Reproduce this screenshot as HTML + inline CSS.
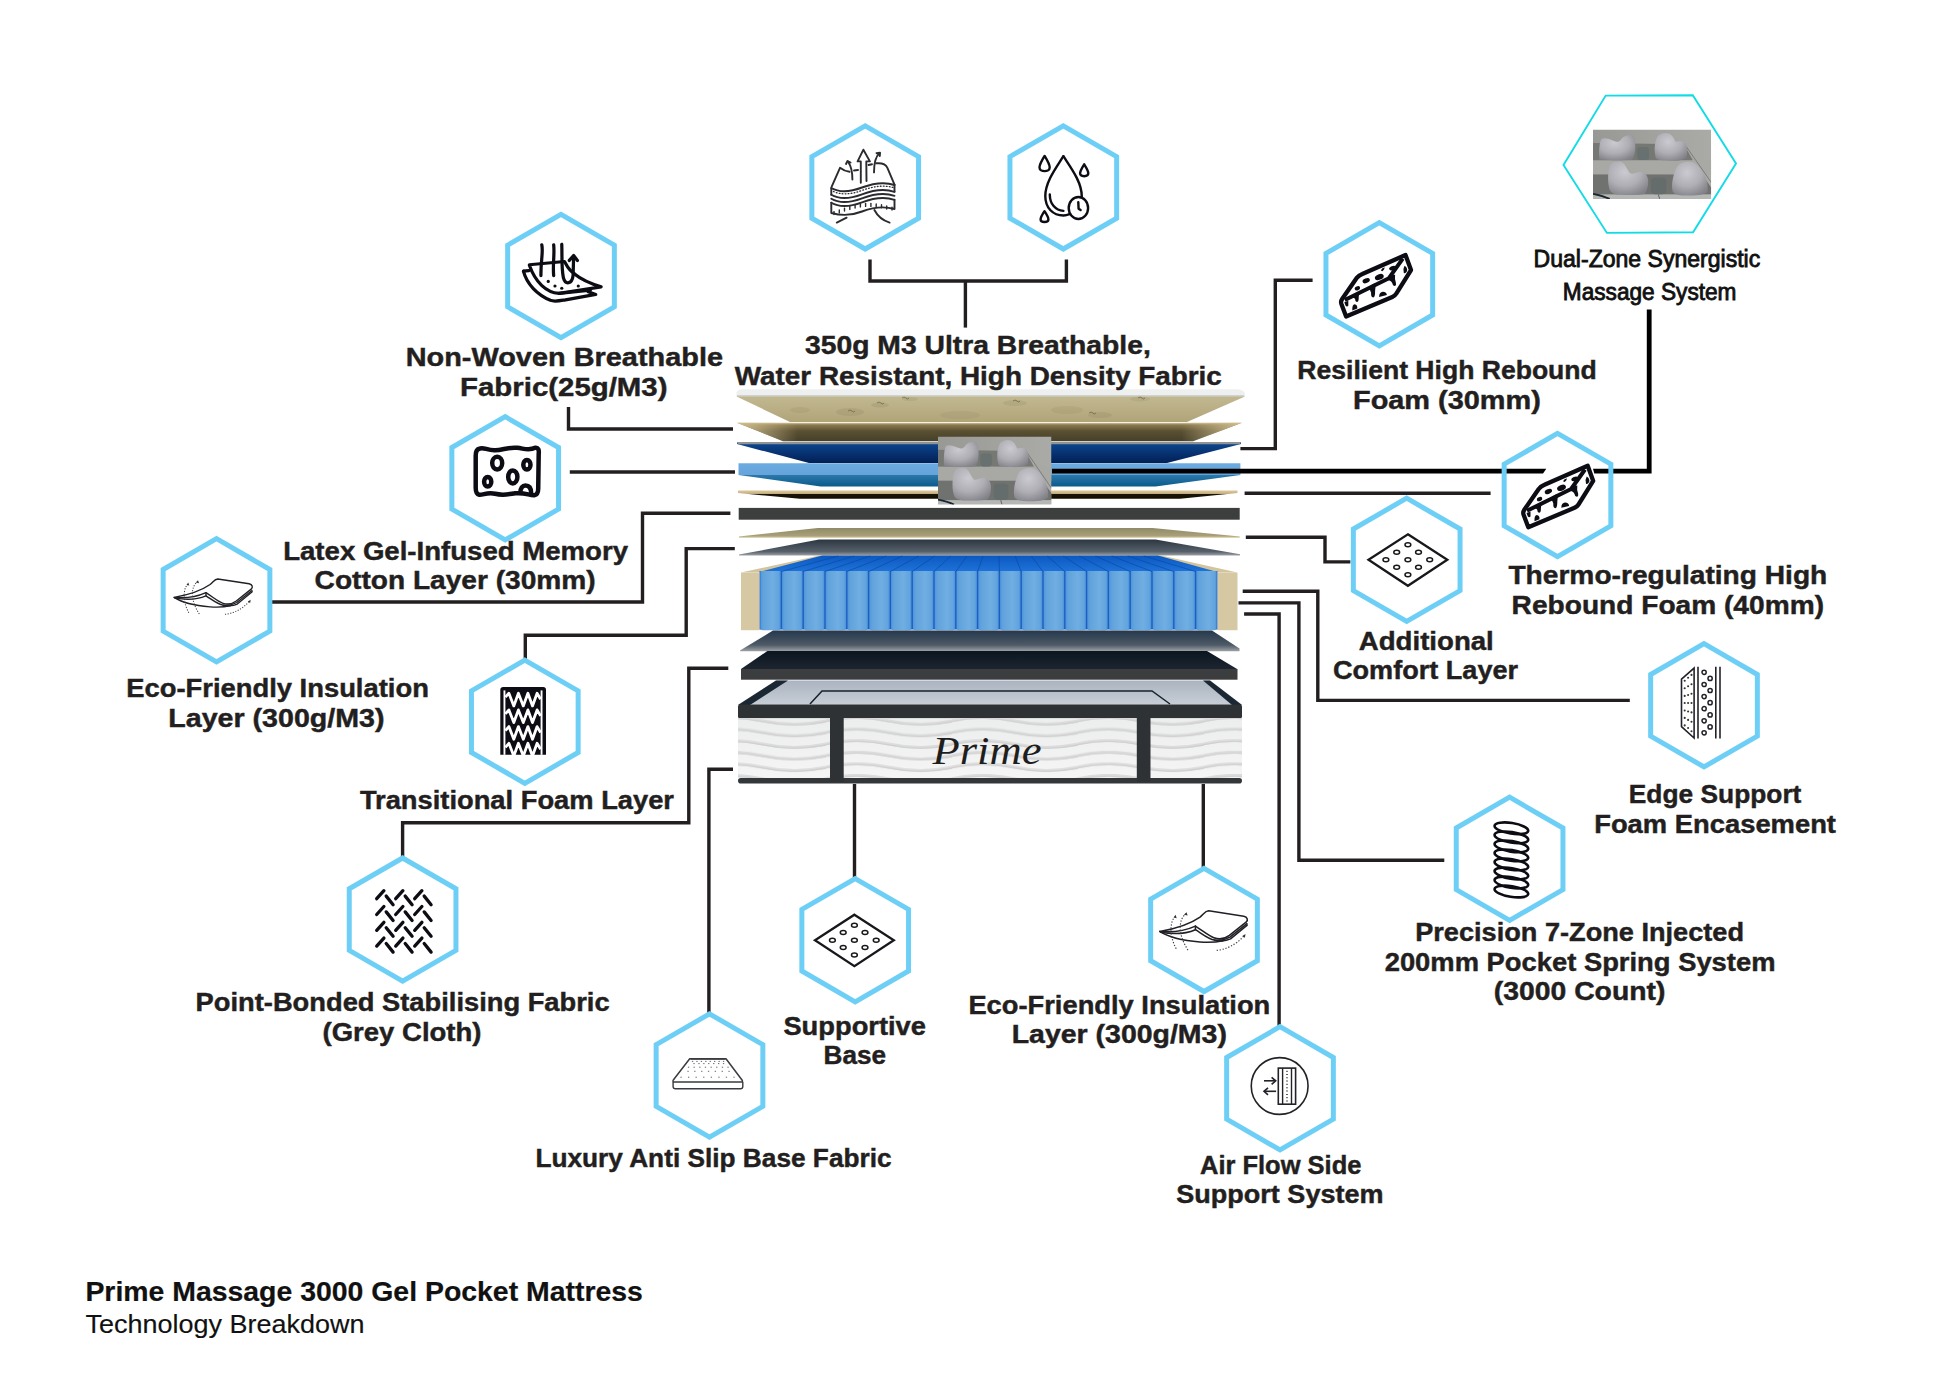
<!DOCTYPE html>
<html><head><meta charset="utf-8"><style>
html,body{margin:0;padding:0;background:#fff;width:1946px;height:1390px;overflow:hidden;}
text{font-family:"Liberation Sans",sans-serif;}
</style></head><body>
<svg width="1946" height="1390" viewBox="0 0 1946 1390" style="position:absolute;left:0;top:0">
<rect width="100%" height="100%" fill="#ffffff"/>
<symbol id="photo" viewBox="0 0 1845 1078" preserveAspectRatio="none"><defs><radialGradient id="gBlob" cx="0.42" cy="0.32" r="0.75"><stop offset="0" stop-color="#cacad0"/><stop offset="0.55" stop-color="#aeaeb4"/><stop offset="1" stop-color="#818187"/></radialGradient><linearGradient id="gPhBg" x1="0" y1="0" x2="1" y2="0"><stop offset="0" stop-color="#989894"/><stop offset="1" stop-color="#aaaaa6"/></linearGradient></defs><rect width="1845" height="1078" fill="url(#gPhBg)"/><path d="M0,210 L1420,230 L1560,480 L0,480Z" fill="#767874"/><rect y="480" width="1845" height="220" fill="#a8a8a4"/><path d="M0,700 L1700,700 L1845,900 L1845,1010 L0,1010Z" fill="#707270"/><rect y="1010" width="1845" height="68" fill="#b4b7b4"/><path d="M1450,258 L1845,820" stroke="#5a5a5a" stroke-width="9"/><rect x="690" y="270" width="185" height="205" rx="50" fill="#687170"/><rect x="905" y="750" width="240" height="255" rx="60" fill="#646d6b"/><path d="M100,470 C90,380 95,200 130,150 C170,120 260,150 330,180 C380,200 410,190 440,150 C480,100 540,80 590,85 C650,95 665,160 660,260 C655,360 650,440 600,470 C500,480 300,480 100,470Z" fill="url(#gBlob)"/><path d="M980,440 C950,330 960,200 1000,120 C1040,60 1140,40 1200,70 C1250,95 1270,160 1290,190 C1330,180 1400,175 1440,210 C1480,260 1475,380 1460,430 C1430,480 1300,490 1200,485 C1080,480 1000,480 980,440Z" fill="url(#gBlob)"/><path d="M250,900 C225,800 230,600 280,530 C320,490 420,485 470,520 C520,560 540,640 580,680 C620,700 680,660 740,655 C800,655 850,700 860,780 C865,860 850,960 800,1000 C700,1020 500,1020 380,1010 C300,1000 260,960 250,900Z" fill="url(#gBlob)"/><path d="M1240,950 C1220,850 1250,700 1310,580 C1350,520 1450,490 1540,505 C1620,520 1680,600 1720,680 C1780,780 1800,880 1790,960 C1760,1020 1600,1030 1450,1025 C1320,1020 1250,1000 1240,950Z" fill="url(#gBlob)"/><path d="M0,1000 C100,1020 200,1050 260,1078" stroke="#1c2430" stroke-width="30" fill="none"/><path d="M1020,1010 L1040,1078" stroke="#333" stroke-width="10"/></symbol>
<defs>
<linearGradient id="gTop" x1="0" y1="0" x2="0" y2="1"><stop offset="0" stop-color="#c2b890"/><stop offset="1" stop-color="#b0a479"/></linearGradient>
<linearGradient id="gL2" x1="0" y1="0" x2="0" y2="1"><stop offset="0" stop-color="#d8c8a0"/><stop offset="0.12" stop-color="#8a7a4e"/><stop offset="0.45" stop-color="#5a5033"/><stop offset="1" stop-color="#464029"/></linearGradient>
<linearGradient id="gL2h" x1="0" y1="0" x2="1" y2="0"><stop offset="0" stop-color="#cdbb8c" stop-opacity="1"/><stop offset="0.12" stop-color="#cdbb8c" stop-opacity="0"/><stop offset="0.88" stop-color="#cdbb8c" stop-opacity="0"/><stop offset="1" stop-color="#cdbb8c" stop-opacity="1"/></linearGradient>
<linearGradient id="gDB" x1="0" y1="0" x2="0" y2="1"><stop offset="0" stop-color="#0c4891"/><stop offset="1" stop-color="#031f55"/></linearGradient>
<linearGradient id="gLB" x1="0" y1="0" x2="0" y2="1"><stop offset="0" stop-color="#6cabe0"/><stop offset="0.5" stop-color="#64a4da"/><stop offset="0.52" stop-color="#2a78aa"/><stop offset="1" stop-color="#0a5a8a"/></linearGradient>
<linearGradient id="gThin" x1="0" y1="0" x2="0" y2="1"><stop offset="0" stop-color="#dcc89c"/><stop offset="0.35" stop-color="#c9b283"/><stop offset="0.45" stop-color="#1a1505"/><stop offset="1" stop-color="#120e02"/></linearGradient>
<linearGradient id="gBeige2" x1="0" y1="0" x2="0" y2="1"><stop offset="0" stop-color="#8f8a66"/><stop offset="0.8" stop-color="#a8a07a"/><stop offset="1" stop-color="#d9cba3"/></linearGradient>
<linearGradient id="gGray1" x1="0" y1="0" x2="0" y2="1"><stop offset="0" stop-color="#2c3640"/><stop offset="0.75" stop-color="#56606a"/><stop offset="1" stop-color="#9da1a5"/></linearGradient>
<linearGradient id="gGray2" x1="0" y1="0" x2="0" y2="1"><stop offset="0" stop-color="#25384c"/><stop offset="0.7" stop-color="#4e5a66"/><stop offset="1" stop-color="#9ea2a6"/></linearGradient>
<linearGradient id="gDark" x1="0" y1="0" x2="0" y2="1"><stop offset="0" stop-color="#0b1520"/><stop offset="1" stop-color="#1d2630"/></linearGradient>
<linearGradient id="gSpr" x1="0" y1="0" x2="1" y2="0"><stop offset="0" stop-color="#4f97da"/><stop offset="0.15" stop-color="#62a3dc"/><stop offset="0.6" stop-color="#70aee2"/><stop offset="0.9" stop-color="#62a4de"/><stop offset="1" stop-color="#4a92d8"/></linearGradient>
<linearGradient id="gSprTop" x1="0" y1="0" x2="0" y2="1"><stop offset="0" stop-color="#0b58c2"/><stop offset="1" stop-color="#1f74d8"/></linearGradient>
<linearGradient id="gBaseTop" x1="0" y1="0" x2="0" y2="1"><stop offset="0" stop-color="#aab4c0"/><stop offset="1" stop-color="#c8ced6"/></linearGradient>
<linearGradient id="gQuilt" x1="0" y1="0" x2="0" y2="1"><stop offset="0" stop-color="#eceded"/><stop offset="1" stop-color="#f5f5f5"/></linearGradient>
<pattern id="pWave" x="700" y="716" width="126" height="11.6" patternUnits="userSpaceOnUse">
<path d="M-1,4.8 C20,0.3 42,0.3 63,4.8 C84,9.3 105,9.3 127,4.8" fill="none" stroke="#dcdcdc" stroke-width="3"/>
<path d="M-1,5.6 C20,1.1 42,1.1 63,5.6 C84,10.1 105,10.1 127,5.6" fill="none" stroke="#cfcfd0" stroke-width="1.2"/>
</pattern>
</defs>
<path d="M736.5,396.8 L736.5,392.5 Q737.5,389.3 742,389.3 L1238,389.3 Q1244,390 1245,393.5 L1245,396.8Z" fill="#eef0f0"/>
<rect x="737" y="395.2" width="507" height="1.6" fill="#c9caca"/>
<path d="M736.50,396.50 L1245.00,396.50 L1187.00,422.00 L790.00,422.00Z" fill="url(#gTop)"/>
<ellipse cx="850" cy="412" rx="14" ry="4" fill="#5c5636" opacity="0.1"/>
<ellipse cx="880" cy="405" rx="9" ry="2.5" fill="#5c5636" opacity="0.12"/>
<ellipse cx="1015" cy="403" rx="12" ry="3" fill="#5c5636" opacity="0.1"/>
<ellipse cx="1067" cy="410" rx="16" ry="4" fill="#5c5636" opacity="0.08"/>
<ellipse cx="1100" cy="415" rx="12" ry="3" fill="#5c5636" opacity="0.1"/>
<ellipse cx="910" cy="399" rx="8" ry="2" fill="#5c5636" opacity="0.1"/>
<ellipse cx="1140" cy="399" rx="10" ry="2.5" fill="#5c5636" opacity="0.1"/>
<ellipse cx="960" cy="415" rx="20" ry="4" fill="#5c5636" opacity="0.07"/>
<ellipse cx="800" cy="410" rx="10" ry="3" fill="#5c5636" opacity="0.08"/>
<path d="M848,411 q2,-2 4,0 q1,2 3,0" fill="none" stroke="#5e5838" stroke-width="0.9" opacity="0.7"/>
<path d="M877,403 q2,-2 4,0 q1,2 3,0" fill="none" stroke="#5e5838" stroke-width="0.9" opacity="0.7"/>
<path d="M1013,401 q2,-2 4,0 q1,2 3,0" fill="none" stroke="#5e5838" stroke-width="0.9" opacity="0.7"/>
<path d="M1089,413 q2,-2 4,0 q1,2 3,0" fill="none" stroke="#5e5838" stroke-width="0.9" opacity="0.7"/>
<path d="M902,398 q2,-2 4,0 q1,2 3,0" fill="none" stroke="#5e5838" stroke-width="0.9" opacity="0.7"/>
<path d="M1138,398 q2,-2 4,0 q1,2 3,0" fill="none" stroke="#5e5838" stroke-width="0.9" opacity="0.7"/>
<path d="M737.00,422.70 L1242.00,422.70 L1193.00,441.20 L783.00,441.20Z" fill="url(#gL2)"/>
<path d="M737.00,422.70 L1242.00,422.70 L1193.00,441.20 L783.00,441.20Z" fill="url(#gL2h)"/>
<path d="M737.00,442.30 L1241.00,442.30 L1241.00,444.00 L1167.00,463.00 L809.00,463.00 L737.00,444.00Z" fill="url(#gDB)"/>
<path d="M737.00,442.00 L1241.00,442.00 L1240.00,444.20 L738.00,444.20Z" fill="#8f9393"/>
<path d="M738.50,463.30 L1240.40,463.30 L1240.40,475.00 L1155.50,486.60 L820.70,486.60 L738.50,475.00Z" fill="url(#gLB)"/>
<path d="M738.00,490.60 L1237.50,490.60 L1237.50,493.00 L1180.00,498.80 L800.00,498.80 L738.00,493.00Z" fill="url(#gThin)"/>
<rect x="738.7" y="507.9" width="501" height="11.8" fill="#3d3f3f"/>
<path d="M739.00,536.60 L817.80,528.00 L1152.70,528.00 L1239.70,536.60 L1239.70,537.80 L739.00,537.80Z" fill="url(#gBeige2)"/>
<path d="M739.00,554.60 L819.00,539.50 L1155.50,539.50 L1240.00,554.20 L1240.00,555.60 L739.00,555.60Z" fill="url(#gGray1)"/>
<path d="M741.00,572.60 L820.70,555.30 L1160.00,555.30 L1237.50,572.60Z" fill="#d2c49c"/>
<path d="M759.60,572.00 L822.30,555.50 L1158.00,555.50 L1217.40,572.00Z" fill="url(#gSprTop)"/>
<rect x="741" y="572.6" width="18.6" height="57.6" fill="#d5c8a2"/>
<rect x="1217.4" y="572.6" width="20.1" height="57.6" fill="#d5c8a2"/>
<rect x="759.6" y="571" width="457.8" height="58.5" fill="#1d5ec4"/>
<path d="M760.30,571 L780.70,571 L780.70,627.5 Q780.70,630.3 778.10,630.3 L762.90,630.3 Q760.30,630.3 760.30,627.5Z" fill="url(#gSpr)"/>
<path d="M782.10,571 L802.50,571 L802.50,627.5 Q802.50,630.3 799.90,630.3 L784.70,630.3 Q782.10,630.3 782.10,627.5Z" fill="url(#gSpr)"/>
<path d="M803.90,571 L824.30,571 L824.30,627.5 Q824.30,630.3 821.70,630.3 L806.50,630.3 Q803.90,630.3 803.90,627.5Z" fill="url(#gSpr)"/>
<path d="M825.70,571 L846.10,571 L846.10,627.5 Q846.10,630.3 843.50,630.3 L828.30,630.3 Q825.70,630.3 825.70,627.5Z" fill="url(#gSpr)"/>
<path d="M847.50,571 L867.90,571 L867.90,627.5 Q867.90,630.3 865.30,630.3 L850.10,630.3 Q847.50,630.3 847.50,627.5Z" fill="url(#gSpr)"/>
<path d="M869.30,571 L889.70,571 L889.70,627.5 Q889.70,630.3 887.10,630.3 L871.90,630.3 Q869.30,630.3 869.30,627.5Z" fill="url(#gSpr)"/>
<path d="M891.10,571 L911.50,571 L911.50,627.5 Q911.50,630.3 908.90,630.3 L893.70,630.3 Q891.10,630.3 891.10,627.5Z" fill="url(#gSpr)"/>
<path d="M912.90,571 L933.30,571 L933.30,627.5 Q933.30,630.3 930.70,630.3 L915.50,630.3 Q912.90,630.3 912.90,627.5Z" fill="url(#gSpr)"/>
<path d="M934.70,571 L955.10,571 L955.10,627.5 Q955.10,630.3 952.50,630.3 L937.30,630.3 Q934.70,630.3 934.70,627.5Z" fill="url(#gSpr)"/>
<path d="M956.50,571 L976.90,571 L976.90,627.5 Q976.90,630.3 974.30,630.3 L959.10,630.3 Q956.50,630.3 956.50,627.5Z" fill="url(#gSpr)"/>
<path d="M978.30,571 L998.70,571 L998.70,627.5 Q998.70,630.3 996.10,630.3 L980.90,630.3 Q978.30,630.3 978.30,627.5Z" fill="url(#gSpr)"/>
<path d="M1000.10,571 L1020.50,571 L1020.50,627.5 Q1020.50,630.3 1017.90,630.3 L1002.70,630.3 Q1000.10,630.3 1000.10,627.5Z" fill="url(#gSpr)"/>
<path d="M1021.90,571 L1042.30,571 L1042.30,627.5 Q1042.30,630.3 1039.70,630.3 L1024.50,630.3 Q1021.90,630.3 1021.90,627.5Z" fill="url(#gSpr)"/>
<path d="M1043.70,571 L1064.10,571 L1064.10,627.5 Q1064.10,630.3 1061.50,630.3 L1046.30,630.3 Q1043.70,630.3 1043.70,627.5Z" fill="url(#gSpr)"/>
<path d="M1065.50,571 L1085.90,571 L1085.90,627.5 Q1085.90,630.3 1083.30,630.3 L1068.10,630.3 Q1065.50,630.3 1065.50,627.5Z" fill="url(#gSpr)"/>
<path d="M1087.30,571 L1107.70,571 L1107.70,627.5 Q1107.70,630.3 1105.10,630.3 L1089.90,630.3 Q1087.30,630.3 1087.30,627.5Z" fill="url(#gSpr)"/>
<path d="M1109.10,571 L1129.50,571 L1129.50,627.5 Q1129.50,630.3 1126.90,630.3 L1111.70,630.3 Q1109.10,630.3 1109.10,627.5Z" fill="url(#gSpr)"/>
<path d="M1130.90,571 L1151.30,571 L1151.30,627.5 Q1151.30,630.3 1148.70,630.3 L1133.50,630.3 Q1130.90,630.3 1130.90,627.5Z" fill="url(#gSpr)"/>
<path d="M1152.70,571 L1173.10,571 L1173.10,627.5 Q1173.10,630.3 1170.50,630.3 L1155.30,630.3 Q1152.70,630.3 1152.70,627.5Z" fill="url(#gSpr)"/>
<path d="M1174.50,571 L1194.90,571 L1194.90,627.5 Q1194.90,630.3 1192.30,630.3 L1177.10,630.3 Q1174.50,630.3 1174.50,627.5Z" fill="url(#gSpr)"/>
<path d="M1196.30,571 L1216.70,571 L1216.70,627.5 Q1216.70,630.3 1214.10,630.3 L1198.90,630.3 Q1196.30,630.3 1196.30,627.5Z" fill="url(#gSpr)"/>
<line x1="781.40" y1="571.5" x2="838.10" y2="556" stroke="#0a47a8" stroke-width="0.9" opacity="0.7"/>
<line x1="803.20" y1="571.5" x2="854.19" y2="556" stroke="#0a47a8" stroke-width="0.9" opacity="0.7"/>
<line x1="825.00" y1="571.5" x2="870.29" y2="556" stroke="#0a47a8" stroke-width="0.9" opacity="0.7"/>
<line x1="846.80" y1="571.5" x2="886.38" y2="556" stroke="#0a47a8" stroke-width="0.9" opacity="0.7"/>
<line x1="868.60" y1="571.5" x2="902.48" y2="556" stroke="#0a47a8" stroke-width="0.9" opacity="0.7"/>
<line x1="890.40" y1="571.5" x2="918.57" y2="556" stroke="#0a47a8" stroke-width="0.9" opacity="0.7"/>
<line x1="912.20" y1="571.5" x2="934.67" y2="556" stroke="#0a47a8" stroke-width="0.9" opacity="0.7"/>
<line x1="934.00" y1="571.5" x2="950.76" y2="556" stroke="#0a47a8" stroke-width="0.9" opacity="0.7"/>
<line x1="955.80" y1="571.5" x2="966.86" y2="556" stroke="#0a47a8" stroke-width="0.9" opacity="0.7"/>
<line x1="977.60" y1="571.5" x2="982.95" y2="556" stroke="#0a47a8" stroke-width="0.9" opacity="0.7"/>
<line x1="999.40" y1="571.5" x2="999.05" y2="556" stroke="#0a47a8" stroke-width="0.9" opacity="0.7"/>
<line x1="1021.20" y1="571.5" x2="1015.14" y2="556" stroke="#0a47a8" stroke-width="0.9" opacity="0.7"/>
<line x1="1043.00" y1="571.5" x2="1031.24" y2="556" stroke="#0a47a8" stroke-width="0.9" opacity="0.7"/>
<line x1="1064.80" y1="571.5" x2="1047.33" y2="556" stroke="#0a47a8" stroke-width="0.9" opacity="0.7"/>
<line x1="1086.60" y1="571.5" x2="1063.43" y2="556" stroke="#0a47a8" stroke-width="0.9" opacity="0.7"/>
<line x1="1108.40" y1="571.5" x2="1079.52" y2="556" stroke="#0a47a8" stroke-width="0.9" opacity="0.7"/>
<line x1="1130.20" y1="571.5" x2="1095.62" y2="556" stroke="#0a47a8" stroke-width="0.9" opacity="0.7"/>
<line x1="1152.00" y1="571.5" x2="1111.71" y2="556" stroke="#0a47a8" stroke-width="0.9" opacity="0.7"/>
<line x1="1173.80" y1="571.5" x2="1127.81" y2="556" stroke="#0a47a8" stroke-width="0.9" opacity="0.7"/>
<line x1="1195.60" y1="571.5" x2="1143.90" y2="556" stroke="#0a47a8" stroke-width="0.9" opacity="0.7"/>
<path d="M740.00,650.60 L773.00,630.60 L1212.00,630.60 L1239.50,648.50 L1239.50,651.20 L740.00,651.20Z" fill="url(#gGray2)"/>
<path d="M741.00,669.00 L767.40,651.00 L1207.00,651.00 L1237.50,669.20Z" fill="url(#gDark)"/>
<rect x="741" y="669" width="496.5" height="10.7" fill="#3c3d3e"/>
<path d="M738.00,704.80 L776.00,680.50 L1210.00,680.50 L1242.00,704.80Z" fill="url(#gBaseTop)"/>
<path d="M810,704 L822,691 L1152,691 L1170,704" fill="none" stroke="#16222e" stroke-width="1.5"/>
<path d="M738,705 L776,680.5 L788,680.5 L750,705Z" fill="#1b2733"/>
<path d="M1242,705 L1210,680.5 L1203,680.5 L1232,705Z" fill="#1b2733"/>
<rect x="738" y="704.6" width="504" height="13.8" rx="2" fill="#2e3234"/>
<rect x="738" y="718.2" width="504" height="60" fill="url(#gQuilt)"/>
<rect x="738" y="718.2" width="504" height="60" fill="url(#pWave)"/>
<rect x="738" y="778" width="504" height="5.6" rx="2.8" fill="#33373a"/>
<rect x="830" y="705" width="13.7" height="77" fill="#2e3234"/>
<rect x="1136.8" y="705" width="13.7" height="77" fill="#2e3234"/>
<text x="932.5" y="763.8" style="font-family:'Liberation Serif',serif;font-style:italic" font-size="39" fill="#1e1e1e" textLength="109" lengthAdjust="spacingAndGlyphs">Prime</text>
<path d="M870,259.5 L870,281 L1066.4,281 L1066.4,259.5" fill="none" stroke="#231f20" stroke-width="3.4" stroke-linejoin="miter" stroke-linecap="butt"/>
<path d="M965.4,281 L965.4,327.6" fill="none" stroke="#231f20" stroke-width="3.4" stroke-linejoin="miter" stroke-linecap="butt"/>
<path d="M568.5,407 L568.5,429 L733,429" fill="none" stroke="#231f20" stroke-width="3.4" stroke-linejoin="miter" stroke-linecap="butt"/>
<path d="M569.8,472 L735,472" fill="none" stroke="#231f20" stroke-width="3.4" stroke-linejoin="miter" stroke-linecap="butt"/>
<path d="M730.4,513.3 L642.5,513.3 L642.5,602 L271.9,602" fill="none" stroke="#231f20" stroke-width="3.4" stroke-linejoin="miter" stroke-linecap="butt"/>
<path d="M734.8,548.6 L686.2,548.6 L686.2,635.3 L525.3,635.3 L525.3,659" fill="none" stroke="#231f20" stroke-width="3.4" stroke-linejoin="miter" stroke-linecap="butt"/>
<path d="M728.3,668.3 L688.8,668.3 L688.8,822.8 L402.6,822.8 L402.6,858.5" fill="none" stroke="#231f20" stroke-width="3.4" stroke-linejoin="miter" stroke-linecap="butt"/>
<path d="M733,769.3 L708.9,769.3 L708.9,1014" fill="none" stroke="#231f20" stroke-width="3.4" stroke-linejoin="miter" stroke-linecap="butt"/>
<path d="M854.5,784 L854.5,877.5" fill="none" stroke="#231f20" stroke-width="3.4" stroke-linejoin="miter" stroke-linecap="butt"/>
<path d="M1203.3,784 L1203.3,867.5" fill="none" stroke="#231f20" stroke-width="3.4" stroke-linejoin="miter" stroke-linecap="butt"/>
<path d="M1240.4,448.6 L1275.3,448.6 L1275.3,280.3 L1312.6,280.3" fill="none" stroke="#231f20" stroke-width="3.4" stroke-linejoin="miter" stroke-linecap="butt"/>
<path d="M1244.6,493.3 L1490.6,493.3" fill="none" stroke="#231f20" stroke-width="3.4" stroke-linejoin="miter" stroke-linecap="butt"/>
<path d="M1245.8,537.3 L1325,537.3 L1325,561.9 L1350.4,561.9" fill="none" stroke="#231f20" stroke-width="3.4" stroke-linejoin="miter" stroke-linecap="butt"/>
<path d="M1242.7,591.2 L1317.8,591.2 L1317.8,700.4 L1629.8,700.4" fill="none" stroke="#231f20" stroke-width="3.4" stroke-linejoin="miter" stroke-linecap="butt"/>
<path d="M1238.5,602.9 L1298.9,602.9 L1298.9,860.3 L1444.3,860.3" fill="none" stroke="#231f20" stroke-width="3.4" stroke-linejoin="miter" stroke-linecap="butt"/>
<path d="M1244.1,614 L1279.1,614 L1279.1,1027" fill="none" stroke="#231f20" stroke-width="3.4" stroke-linejoin="miter" stroke-linecap="butt"/>
<path d="M1052,468.8 L1546.3,468.8 L1543,473.6 L1052,473.6Z" fill="#000"/>
<path d="M1593,468.8 L1646.8,468.8 L1646.8,309.4 L1651.6,309.4 L1651.6,473.6 L1594.3,473.6Z" fill="#000"/>
<path d="M865.20,125.80 L918.55,156.60 L918.55,218.20 L865.20,249.00 L811.85,218.20 L811.85,156.60Z" fill="none" stroke="#6ecff6" stroke-width="5" stroke-linejoin="miter"/>
<path d="M1063.30,125.80 L1116.65,156.60 L1116.65,218.20 L1063.30,249.00 L1009.95,218.20 L1009.95,156.60Z" fill="none" stroke="#6ecff6" stroke-width="5" stroke-linejoin="miter"/>
<path d="M561.00,214.40 L614.35,245.20 L614.35,306.80 L561.00,337.60 L507.65,306.80 L507.65,245.20Z" fill="none" stroke="#6ecff6" stroke-width="5" stroke-linejoin="miter"/>
<path d="M1379.30,222.60 L1432.65,253.40 L1432.65,315.00 L1379.30,345.80 L1325.95,315.00 L1325.95,253.40Z" fill="none" stroke="#6ecff6" stroke-width="5" stroke-linejoin="miter"/>
<path d="M505.20,416.70 L558.55,447.50 L558.55,509.10 L505.20,539.90 L451.85,509.10 L451.85,447.50Z" fill="none" stroke="#6ecff6" stroke-width="5" stroke-linejoin="miter"/>
<path d="M1557.50,433.40 L1610.85,464.20 L1610.85,525.80 L1557.50,556.60 L1504.15,525.80 L1504.15,464.20Z" fill="none" stroke="#6ecff6" stroke-width="5" stroke-linejoin="miter"/>
<path d="M216.50,538.70 L269.85,569.50 L269.85,631.10 L216.50,661.90 L163.15,631.10 L163.15,569.50Z" fill="none" stroke="#6ecff6" stroke-width="5" stroke-linejoin="miter"/>
<path d="M1406.70,498.20 L1460.05,529.00 L1460.05,590.60 L1406.70,621.40 L1353.35,590.60 L1353.35,529.00Z" fill="none" stroke="#6ecff6" stroke-width="5" stroke-linejoin="miter"/>
<path d="M524.80,660.10 L578.15,690.90 L578.15,752.50 L524.80,783.30 L471.45,752.50 L471.45,690.90Z" fill="none" stroke="#6ecff6" stroke-width="5" stroke-linejoin="miter"/>
<path d="M1704.00,643.70 L1757.35,674.50 L1757.35,736.10 L1704.00,766.90 L1650.65,736.10 L1650.65,674.50Z" fill="none" stroke="#6ecff6" stroke-width="5" stroke-linejoin="miter"/>
<path d="M402.60,858.00 L455.95,888.80 L455.95,950.40 L402.60,981.20 L349.25,950.40 L349.25,888.80Z" fill="none" stroke="#6ecff6" stroke-width="5" stroke-linejoin="miter"/>
<path d="M855.20,878.60 L908.55,909.40 L908.55,971.00 L855.20,1001.80 L801.85,971.00 L801.85,909.40Z" fill="none" stroke="#6ecff6" stroke-width="5" stroke-linejoin="miter"/>
<path d="M1509.60,797.20 L1562.95,828.00 L1562.95,889.60 L1509.60,920.40 L1456.25,889.60 L1456.25,828.00Z" fill="none" stroke="#6ecff6" stroke-width="5" stroke-linejoin="miter"/>
<path d="M1204.00,868.30 L1257.35,899.10 L1257.35,960.70 L1204.00,991.50 L1150.65,960.70 L1150.65,899.10Z" fill="none" stroke="#6ecff6" stroke-width="5" stroke-linejoin="miter"/>
<path d="M709.50,1013.90 L762.85,1044.70 L762.85,1106.30 L709.50,1137.10 L656.15,1106.30 L656.15,1044.70Z" fill="none" stroke="#6ecff6" stroke-width="5" stroke-linejoin="miter"/>
<path d="M1280.00,1026.70 L1333.35,1057.50 L1333.35,1119.10 L1280.00,1149.90 L1226.65,1119.10 L1226.65,1057.50Z" fill="none" stroke="#6ecff6" stroke-width="5" stroke-linejoin="miter"/>
<g transform="translate(820,140)" fill="none" stroke="#2a2a30" stroke-width="1.9" stroke-linecap="round" stroke-linejoin="round"><path d="M40.8,42.7 L40.8,21.4 L37.6,21.4 L43.4,9.7 L49.9,21.4 L46.3,21.4 L46.5,41"/><path d="M32.4,39.5 C32.5,31 31,26 28,21.5"/><path d="M26,24 L27.5,21 L30.5,22.5" /><path d="M54,32.4 C54,24 55,17 59.6,13"/><path d="M56.5,13.2 L60,12.6 L59.8,16"/><path d="M11.7,46.6 L20,27.8 C24,31 27,31.5 29.5,31.8"/><path d="M34,30.5 C36,30 37,30 38,30"/><path d="M48.5,25 C50,24.5 51,24.5 52,24.3"/><path d="M56.3,23.3 C62,22.8 66,24.5 67.4,27.8 L74.5,44.7"/><path d="M11.3,48 C20,53 30,52 42,47.5 C54,43 64,41.5 74.5,45"/><path d="M11.3,54.8 C20,59.8 30,58.8 42,54.3 C54,49.8 64,48.3 74.5,51.8"/><path d="M11.3,58.8 C20,63.8 30,62.8 42,58.3 C54,53.8 64,52.3 74.5,55.8"/><path d="M11.3,62.8 C20,67.8 30,66.8 42,62.3 C54,57.8 64,56.3 74.5,59.8"/><path d="M11.3,48 L11.3,54.8"/><path d="M74.5,45 L74.5,51.8"/><path d="M11.3,62.8 L11.3,73 C22,76 32,75.5 42,71.5 C54,67 64,66 74.5,69 L74.5,59.8"/><path d="M13.5,51.5 C21,55 31,54.5 42,50.5 C54,46 64,45 73,47.5" stroke-dasharray="0.8 2.2" stroke-width="1.3"/><path d="M14.0,74.6 L14.0,71.6" stroke-width="1.4"/><path d="M19.3,72.9 L19.3,69.9" stroke-width="1.4"/><path d="M24.5,71.1 L24.5,68.1" stroke-width="1.4"/><path d="M29.8,69.4 L29.8,66.4" stroke-width="1.4"/><path d="M35.1,68.0 L35.1,65.0" stroke-width="1.4"/><path d="M40.4,66.9 L40.4,63.9" stroke-width="1.4"/><path d="M45.6,66.4 L45.6,63.4" stroke-width="1.4"/><path d="M50.9,66.4 L50.9,63.4" stroke-width="1.4"/><path d="M56.2,66.9 L56.2,63.9" stroke-width="1.4"/><path d="M61.5,67.8 L61.5,64.8" stroke-width="1.4"/><path d="M66.7,69.0 L66.7,66.0" stroke-width="1.4"/><path d="M72.0,70.1 L72.0,67.1" stroke-width="1.4"/><path d="M16.8,82.6 L26.6,77.7"/><path d="M54.4,70 C58,77 63,80.5 69.6,82.6"/></g>
<g transform="translate(1020,140)" fill="none" stroke="#0c0c14" stroke-width="2.4" stroke-linecap="round" stroke-linejoin="round"><path d="M43.4,16.2 C36,28 25.3,42 25.3,56 C25.3,68 33,75.5 43.5,75.5 C46,75.5 47.5,75 49.5,74.2"/><path d="M43.4,16.2 C51,28 61.8,42 61.8,56.5"/><path d="M29.8,54.4 C29.8,64 35.5,70.5 43.4,70.9"/><ellipse cx="58.4" cy="68" rx="9.7" ry="11"/><path d="M58.3,62.2 L58.6,68.7 L60.6,70"/><path d="M24.6,15.9 C21.540000000000003,20.85 19.5,24.15 19.5,27.45 C19.5,32.4 29.700000000000003,32.4 29.700000000000003,27.45 C29.700000000000003,24.15 27.66,20.85 24.6,15.9Z"/><path d="M64.2,24.3 C61.74,28.17 60.1,30.75 60.1,33.33 C60.1,37.2 68.3,37.2 68.3,33.33 C68.3,30.75 66.66,28.17 64.2,24.3Z"/><path d="M24.5,71.2 C22.16,74.71000000000001 20.6,77.05 20.6,79.39 C20.6,82.9 28.4,82.9 28.4,79.39 C28.4,77.05 26.84,74.71000000000001 24.5,71.2Z"/></g>
<g transform="translate(490,200) scale(0.1079097874177188)" fill="none" stroke="#0c0c14" stroke-width="30" stroke-linecap="round" stroke-linejoin="round"><path d="M480,415 C495,480 470,560 472,700"/><path d="M590,415 C600,500 580,600 590,700"/><path d="M665,410 C670,520 660,620 680,720 C700,790 760,780 770,700 L775,525"/><path d="M735,560 L775,515 L810,560"/><path d="M365,605 L365,600 L690,570 C705,590 715,640 790,690 C850,740 920,770 1030,805 L640,865 C520,860 420,760 365,605Z"/><path d="M310,660 L360,655"/><path d="M310,660 C340,780 440,880 560,930 C600,945 640,935 700,925 L980,875 L910,850"/><path d="M640,865 L930,835"/></g><circle cx="548.27" cy="281.47" r="1.6" fill="#0c0c14"/><circle cx="554.96" cy="286.00" r="1.6" fill="#0c0c14"/><circle cx="561.76" cy="288.27" r="1.6" fill="#0c0c14"/><circle cx="578.27" cy="286.00" r="1.6" fill="#0c0c14"/>
<g transform="translate(1379.3,284.2)" ><path d="M26.2,-29.2 L-17,-10.2 Q-20.5,-8.8 -22.8,-6 L-37,14.5 Q-38.8,17 -38,19.5 L-33.2,32.3 L13,12.8 Q15.5,11.8 17,9.5 L31.7,-14.1 Z" fill="#fff" stroke="#0c0c14" stroke-width="4.3" stroke-linejoin="round"/><path d="M-34.5,15.8 L9.6,-6 L23.5,-25.5" stroke="#0c0c14" stroke-width="4" fill="none" stroke-linejoin="round"/><ellipse cx="0" cy="-7.2" rx="4.6" ry="2.8" transform="rotate(-22 0 -7.2)" fill="#0c0c14"/><ellipse cx="-13.1" cy="-3.5" rx="3.8" ry="2.3" transform="rotate(-22 -13.1 -3.5)" fill="#0c0c14"/><ellipse cx="-21.9" cy="4.1" rx="2.8" ry="2.0" transform="rotate(-22 -21.9 4.1)" fill="#0c0c14"/><ellipse cx="13.1" cy="-16.1" rx="3.4" ry="2.0" transform="rotate(-22 13.1 -16.1)" fill="#0c0c14"/><path d="M-11.5,4.5 Q-8,-0.5 -3.5,-1 Q-3.8,3 -4.2,6.5 Q-4,12.8 -6.2,13.2 Q-8.5,13 -8.2,8.5 Q-8.5,5.5 -11.5,4.5Z" fill="#0c0c14"/><path d="M7.5,-4.5 Q10.5,-9.5 15.8,-9.5 Q15.2,-5 16.5,-2 Q17.3,1.8 15.3,1.8 Q13.3,1.6 13,-1 Q12,-3.8 7.5,-4.5Z" fill="#0c0c14"/><path d="M-28,13 Q-24.5,8.2 -19.5,8.2 Q-20.8,11.5 -20.6,14.5 Q-20.8,18 -22.6,17.8 Q-24.3,17.3 -24.2,14.8 Q-25,13.3 -28,13Z" fill="#0c0c14"/><path d="M-0.2,12.8 Q-0.2,7.8 3.6,7.6 Q7.4,7.8 7.6,10.9 Z" fill="#0c0c14"/><path d="M-27,26.2 Q-27.4,20.5 -24.6,20 Q-21.8,20.4 -22,24.2Z" fill="#0c0c14"/><path d="M25.2,-18.5 Q23.2,-15 24.5,-11.3 Q26.6,-10.3 27.8,-13.2 Q28.4,-16.5 25.2,-18.5Z" fill="#0c0c14"/><path d="M1.5,-13.8 Q3,-16.8 5.5,-16.6 Q5,-14.5 3.2,-13Z" fill="#0c0c14"/><path d="M-35,18 L-31,16.5 L-31,21.5 Q-32.5,23 -33.8,21.2Z" fill="#0c0c14"/></g>
<g transform="translate(1561.5,495)" ><path d="M26.2,-29.2 L-17,-10.2 Q-20.5,-8.8 -22.8,-6 L-37,14.5 Q-38.8,17 -38,19.5 L-33.2,32.3 L13,12.8 Q15.5,11.8 17,9.5 L31.7,-14.1 Z" fill="#fff" stroke="#0c0c14" stroke-width="4.3" stroke-linejoin="round"/><path d="M-34.5,15.8 L9.6,-6 L23.5,-25.5" stroke="#0c0c14" stroke-width="4" fill="none" stroke-linejoin="round"/><ellipse cx="0" cy="-7.2" rx="4.6" ry="2.8" transform="rotate(-22 0 -7.2)" fill="#0c0c14"/><ellipse cx="-13.1" cy="-3.5" rx="3.8" ry="2.3" transform="rotate(-22 -13.1 -3.5)" fill="#0c0c14"/><ellipse cx="-21.9" cy="4.1" rx="2.8" ry="2.0" transform="rotate(-22 -21.9 4.1)" fill="#0c0c14"/><ellipse cx="13.1" cy="-16.1" rx="3.4" ry="2.0" transform="rotate(-22 13.1 -16.1)" fill="#0c0c14"/><path d="M-11.5,4.5 Q-8,-0.5 -3.5,-1 Q-3.8,3 -4.2,6.5 Q-4,12.8 -6.2,13.2 Q-8.5,13 -8.2,8.5 Q-8.5,5.5 -11.5,4.5Z" fill="#0c0c14"/><path d="M7.5,-4.5 Q10.5,-9.5 15.8,-9.5 Q15.2,-5 16.5,-2 Q17.3,1.8 15.3,1.8 Q13.3,1.6 13,-1 Q12,-3.8 7.5,-4.5Z" fill="#0c0c14"/><path d="M-28,13 Q-24.5,8.2 -19.5,8.2 Q-20.8,11.5 -20.6,14.5 Q-20.8,18 -22.6,17.8 Q-24.3,17.3 -24.2,14.8 Q-25,13.3 -28,13Z" fill="#0c0c14"/><path d="M-0.2,12.8 Q-0.2,7.8 3.6,7.6 Q7.4,7.8 7.6,10.9 Z" fill="#0c0c14"/><path d="M-27,26.2 Q-27.4,20.5 -24.6,20 Q-21.8,20.4 -22,24.2Z" fill="#0c0c14"/><path d="M25.2,-18.5 Q23.2,-15 24.5,-11.3 Q26.6,-10.3 27.8,-13.2 Q28.4,-16.5 25.2,-18.5Z" fill="#0c0c14"/><path d="M1.5,-13.8 Q3,-16.8 5.5,-16.6 Q5,-14.5 3.2,-13Z" fill="#0c0c14"/><path d="M-35,18 L-31,16.5 L-31,21.5 Q-32.5,23 -33.8,21.2Z" fill="#0c0c14"/></g>
<g transform="translate(505.2,477.8)" ><g fill="none" stroke="#0c0c14" stroke-width="4.5" stroke-linejoin="round"><path d="M-26,-29 C-22,-31.5 -18,-27 -10,-27.5 C-2,-28 4,-31 12,-30 C20,-29 24,-27 30,-30 C33,-30.5 34,-28 33.5,-24 L33,11 C33,15 32,17 29,17.5 C24,17.8 20,14.5 10,15.5 C3,16.5 -2,18 -10,16 C-18,14 -22,17.5 -26,17 C-28.5,16.5 -29.5,14 -29.5,10 L-29.5,-22 C-29.5,-26 -28,-28.5 -26,-29Z"/><ellipse cx="-8" cy="-14.7" rx="5" ry="6.3"/><ellipse cx="21.7" cy="-13" rx="3.6" ry="4.8"/><ellipse cx="7.6" cy="-0.9" rx="4.6" ry="6.5"/><ellipse cx="-17.5" cy="4" rx="3.6" ry="4.8"/><path d="M15,15.5 C15,10 17.5,7.6 20.2,7.6 C23.5,7.6 26,10 26,15.5"/></g></g>
<g transform="translate(1154,890) scale(0.05754)"><g fill="none" stroke="#202026" stroke-width="27" stroke-linejoin="round" stroke-linecap="round"><path d="M100,720 C330,680 600,610 800,470 C870,410 890,365 950,362 L1560,455 C1625,470 1640,520 1600,560 L1310,790 C1230,850 1120,860 1040,830 C950,795 860,720 720,628 C560,700 330,745 100,720Z"/><path d="M720,628 L720,690 C860,780 960,860 1050,870 C1130,880 1250,860 1320,820 L1615,585"/><path d="M115,735 C330,770 560,760 720,690"/><path d="M1050,870 C1100,900 1240,890 1330,850 L1620,610"/><path d="M100,720 C250,820 500,880 800,905 C950,915 1100,905 1200,880"/></g><g fill="none" stroke="#3a3a40" stroke-width="20" stroke-dasharray="22 30"><path d="M385,1020 C320,900 280,750 300,620 C310,540 330,500 365,470"/><path d="M590,1045 C500,900 450,760 455,640 C460,540 490,470 545,420"/><path d="M1090,1050 C1250,1030 1420,960 1560,800"/></g><path d="M340,480 L375,430 L395,490Z M520,430 L565,385 L585,445Z M1535,800 L1590,765 L1580,830Z" fill="#333"/></g>
<g transform="translate(169.0,560.4) scale(0.05136)"><g fill="none" stroke="#202026" stroke-width="27" stroke-linejoin="round" stroke-linecap="round"><path d="M100,720 C330,680 600,610 800,470 C870,410 890,365 950,362 L1560,455 C1625,470 1640,520 1600,560 L1310,790 C1230,850 1120,860 1040,830 C950,795 860,720 720,628 C560,700 330,745 100,720Z"/><path d="M720,628 L720,690 C860,780 960,860 1050,870 C1130,880 1250,860 1320,820 L1615,585"/><path d="M115,735 C330,770 560,760 720,690"/><path d="M1050,870 C1100,900 1240,890 1330,850 L1620,610"/><path d="M100,720 C250,820 500,880 800,905 C950,915 1100,905 1200,880"/></g><g fill="none" stroke="#3a3a40" stroke-width="20" stroke-dasharray="22 30"><path d="M385,1020 C320,900 280,750 300,620 C310,540 330,500 365,470"/><path d="M590,1045 C500,900 450,760 455,640 C460,540 490,470 545,420"/><path d="M1090,1050 C1250,1030 1420,960 1560,800"/></g><path d="M340,480 L375,430 L395,490Z M520,430 L565,385 L585,445Z M1535,800 L1590,765 L1580,830Z" fill="#333"/></g>
<g transform="translate(1406.7,559.8)" ><path d="M1.2,-25.5 L40.6,0 L1.2,26 L-38.199999999999996,0Z" fill="none" stroke="#18181c" stroke-width="2.3" stroke-linejoin="miter"/><ellipse cx="1.2" cy="-15" rx="2.9" ry="2.0" fill="none" stroke="#18181c" stroke-width="1.5"/><ellipse cx="-10.0" cy="-7.6" rx="2.9" ry="2.0" fill="none" stroke="#18181c" stroke-width="1.5"/><ellipse cx="11.799999999999999" cy="-7.6" rx="2.9" ry="2.0" fill="none" stroke="#18181c" stroke-width="1.5"/><ellipse cx="-20.8" cy="0" rx="2.9" ry="2.0" fill="none" stroke="#18181c" stroke-width="1.5"/><ellipse cx="1.2" cy="0" rx="2.9" ry="2.0" fill="none" stroke="#18181c" stroke-width="1.5"/><ellipse cx="23.0" cy="0" rx="2.9" ry="2.0" fill="none" stroke="#18181c" stroke-width="1.5"/><ellipse cx="-10.0" cy="7.4" rx="2.9" ry="2.0" fill="none" stroke="#18181c" stroke-width="1.5"/><ellipse cx="11.799999999999999" cy="7.4" rx="2.9" ry="2.0" fill="none" stroke="#18181c" stroke-width="1.5"/><ellipse cx="1.2" cy="14.9" rx="2.9" ry="2.0" fill="none" stroke="#18181c" stroke-width="1.5"/></g>
<g transform="translate(855.2,940.2)" ><path d="M-0.8,-25.5 L38.6,0 L-0.8,26 L-40.199999999999996,0Z" fill="none" stroke="#18181c" stroke-width="2.3" stroke-linejoin="miter"/><ellipse cx="-0.8" cy="-15" rx="2.9" ry="2.0" fill="none" stroke="#18181c" stroke-width="1.5"/><ellipse cx="-12.0" cy="-7.6" rx="2.9" ry="2.0" fill="none" stroke="#18181c" stroke-width="1.5"/><ellipse cx="9.799999999999999" cy="-7.6" rx="2.9" ry="2.0" fill="none" stroke="#18181c" stroke-width="1.5"/><ellipse cx="-22.8" cy="0" rx="2.9" ry="2.0" fill="none" stroke="#18181c" stroke-width="1.5"/><ellipse cx="-0.8" cy="0" rx="2.9" ry="2.0" fill="none" stroke="#18181c" stroke-width="1.5"/><ellipse cx="21.0" cy="0" rx="2.9" ry="2.0" fill="none" stroke="#18181c" stroke-width="1.5"/><ellipse cx="-12.0" cy="7.4" rx="2.9" ry="2.0" fill="none" stroke="#18181c" stroke-width="1.5"/><ellipse cx="9.799999999999999" cy="7.4" rx="2.9" ry="2.0" fill="none" stroke="#18181c" stroke-width="1.5"/><ellipse cx="-0.8" cy="14.9" rx="2.9" ry="2.0" fill="none" stroke="#18181c" stroke-width="1.5"/></g>
<g transform="translate(524.8,721.7)" ><path d="M-24.5,33.1 L-24.5,-32 Q-24.5,-34.8 -21.5,-34.8 L18.3,-34.8 Q21.2,-34.8 21.2,-32 L21.2,33.1Z" fill="#0c0c14"/><rect x="-21.3" y="-31.3" width="1.9" height="64.4" fill="#fff"/><rect x="15.8" y="-31.3" width="1.9" height="64.4" fill="#fff"/><path d="M-19.4,-24.5 L-15.9,-28.5 L-11,-15.8 L-6.4,-28.5 L-1.5,-15.8 L3.1,-28.5 L7.7,-15.8 L12.3,-28.5 L15.8,-22.5" fill="none" stroke="#fff" stroke-width="2.8" stroke-linejoin="round"/><path d="M-19.4,-7.800000000000001 L-15.9,-11.8 L-11,0.8999999999999986 L-6.4,-11.8 L-1.5,0.8999999999999986 L3.1,-11.8 L7.7,0.8999999999999986 L12.3,-11.8 L15.8,-5.800000000000001" fill="none" stroke="#fff" stroke-width="2.8" stroke-linejoin="round"/><path d="M-19.4,8.899999999999999 L-15.9,4.899999999999999 L-11,17.599999999999998 L-6.4,4.899999999999999 L-1.5,17.599999999999998 L3.1,4.899999999999999 L7.7,17.599999999999998 L12.3,4.899999999999999 L15.8,10.899999999999999" fill="none" stroke="#fff" stroke-width="2.8" stroke-linejoin="round"/><path d="M-19.4,25.599999999999994 L-15.9,21.599999999999994 L-11,34.3 L-6.4,21.599999999999994 L-1.5,34.3 L3.1,21.599999999999994 L7.7,34.3 L12.3,21.599999999999994 L15.8,27.599999999999994" fill="none" stroke="#fff" stroke-width="2.8" stroke-linejoin="round"/><path d="M-19.4,33.1 L-19.4,28 L-15.9,26 L-11,33.1 L-6.4,26 L-1.5,33.1 L3.1,26 L7.7,33.1 L12.3,26 L15.8,33.1Z" fill="none"/></g>
<g transform="translate(402.6,919.6)" ><g stroke="#0c0c14" stroke-width="3.3" stroke-linecap="round"><line x1="-25.9" y1="-20.9" x2="-18.7" y2="-28.9"/><line x1="-16.4" y1="-23.5" x2="-9.5" y2="-14.9"/><line x1="-6.899999999999999" y1="-20.9" x2="0.3000000000000007" y2="-28.9"/><line x1="2.6000000000000014" y1="-23.5" x2="9.5" y2="-14.9"/><line x1="12.100000000000001" y1="-20.9" x2="19.3" y2="-28.9"/><line x1="21.6" y1="-23.5" x2="28.5" y2="-14.9"/><line x1="-25.9" y1="-5.099999999999998" x2="-18.7" y2="-13.099999999999998"/><line x1="-16.4" y1="-7.699999999999999" x2="-9.5" y2="0.9000000000000004"/><line x1="-6.899999999999999" y1="-5.099999999999998" x2="0.3000000000000007" y2="-13.099999999999998"/><line x1="2.6000000000000014" y1="-7.699999999999999" x2="9.5" y2="0.9000000000000004"/><line x1="12.100000000000001" y1="-5.099999999999998" x2="19.3" y2="-13.099999999999998"/><line x1="21.6" y1="-7.699999999999999" x2="28.5" y2="0.9000000000000004"/><line x1="-25.9" y1="10.700000000000003" x2="-18.7" y2="2.700000000000003"/><line x1="-16.4" y1="8.100000000000001" x2="-9.5" y2="16.700000000000003"/><line x1="-6.899999999999999" y1="10.700000000000003" x2="0.3000000000000007" y2="2.700000000000003"/><line x1="2.6000000000000014" y1="8.100000000000001" x2="9.5" y2="16.700000000000003"/><line x1="12.100000000000001" y1="10.700000000000003" x2="19.3" y2="2.700000000000003"/><line x1="21.6" y1="8.100000000000001" x2="28.5" y2="16.700000000000003"/><line x1="-25.9" y1="26.500000000000007" x2="-18.7" y2="18.500000000000007"/><line x1="-16.4" y1="23.900000000000006" x2="-9.5" y2="32.50000000000001"/><line x1="-6.899999999999999" y1="26.500000000000007" x2="0.3000000000000007" y2="18.500000000000007"/><line x1="2.6000000000000014" y1="23.900000000000006" x2="9.5" y2="32.50000000000001"/><line x1="12.100000000000001" y1="26.500000000000007" x2="19.3" y2="18.500000000000007"/><line x1="21.6" y1="23.900000000000006" x2="28.5" y2="32.50000000000001"/></g></g>
<g transform="translate(1509.6,858.8)" ><g fill="none" stroke="#0c0c14" stroke-width="2.6"><ellipse cx="1.8" cy="-30.50" rx="17" ry="5.3" transform="rotate(9 1.8 -30.50)"/><ellipse cx="1.8" cy="-21.47" rx="17" ry="5.3" transform="rotate(9 1.8 -21.47)"/><ellipse cx="1.8" cy="-12.44" rx="17" ry="5.3" transform="rotate(9 1.8 -12.44)"/><ellipse cx="1.8" cy="-3.41" rx="17" ry="5.3" transform="rotate(9 1.8 -3.41)"/><ellipse cx="1.8" cy="5.62" rx="17" ry="5.3" transform="rotate(9 1.8 5.62)"/><ellipse cx="1.8" cy="14.65" rx="17" ry="5.3" transform="rotate(9 1.8 14.65)"/><ellipse cx="1.8" cy="23.68" rx="17" ry="5.3" transform="rotate(9 1.8 23.68)"/><ellipse cx="1.8" cy="32.71" rx="17" ry="5.3" transform="rotate(9 1.8 32.71)"/></g></g>
<g transform="translate(1704,705.3)" ><g fill="none" stroke="#22222a" stroke-width="1.6"><path d="M-9.9,-37.2 L-9.9,32.7 L-22.5,21.4 L-22.5,-26.2Z"/><line x1="-6" y1="-38.5" x2="-6" y2="33.3"/><line x1="11.8" y1="-38.5" x2="11.8" y2="33.3"/><line x1="16" y1="-38.5" x2="16" y2="33.3"/><circle cx="0.1" cy="-33" r="2.1" stroke-width="1.5"/><circle cx="0.1" cy="-20.8" r="2.1" stroke-width="1.5"/><circle cx="0.1" cy="-8.7" r="2.1" stroke-width="1.5"/><circle cx="0.1" cy="3.4" r="2.1" stroke-width="1.5"/><circle cx="0.1" cy="15.5" r="2.1" stroke-width="1.5"/><circle cx="0.1" cy="27.5" r="2.1" stroke-width="1.5"/><circle cx="6.1" cy="-26.9" r="2.1" stroke-width="1.5"/><circle cx="6.1" cy="-14.8" r="2.1" stroke-width="1.5"/><circle cx="6.1" cy="-2.6" r="2.1" stroke-width="1.5"/><circle cx="6.1" cy="9.6" r="2.1" stroke-width="1.5"/><circle cx="6.1" cy="21.6" r="2.1" stroke-width="1.5"/></g><circle cx="-12.5" cy="-30.4" r="1.05" fill="#333"/><circle cx="-15.9" cy="-27.5" r="1.05" fill="#333"/><circle cx="-19.3" cy="-24.6" r="1.05" fill="#333"/><circle cx="-12.5" cy="-21.0" r="1.05" fill="#333"/><circle cx="-15.9" cy="-19.1" r="1.05" fill="#333"/><circle cx="-19.3" cy="-17.1" r="1.05" fill="#333"/><circle cx="-12.5" cy="-11.6" r="1.05" fill="#333"/><circle cx="-15.9" cy="-10.3" r="1.05" fill="#333"/><circle cx="-19.3" cy="-9.4" r="1.05" fill="#333"/><circle cx="-19.3" cy="-2.3" r="1.05" fill="#333"/><circle cx="-15.9" cy="-2.3" r="1.05" fill="#333"/><circle cx="-12.5" cy="-2.3" r="1.05" fill="#333"/><circle cx="-19.3" cy="5.2" r="1.05" fill="#333"/><circle cx="-15.9" cy="6.2" r="1.05" fill="#333"/><circle cx="-12.5" cy="7.1" r="1.05" fill="#333"/><circle cx="-19.3" cy="12.6" r="1.05" fill="#333"/><circle cx="-15.9" cy="14.6" r="1.05" fill="#333"/><circle cx="-12.5" cy="16.5" r="1.05" fill="#333"/><circle cx="-19.3" cy="20.1" r="1.05" fill="#333"/><circle cx="-15.9" cy="22.7" r="1.05" fill="#333"/><circle cx="-12.5" cy="25.9" r="1.05" fill="#333"/></g>
<g transform="translate(709.5,1075.5)" ><g fill="none" stroke="#3a3a40" stroke-width="1.4" stroke-linejoin="round"><path d="M-19.8,-16.7 L16.5,-16.7 L32.5,4.5 Q33.5,6 32.5,6.5 L-36,6.5 Q-37,6 -36.2,4.5Z" stroke-width="1.5"/><path d="M-36.4,6.5 L-36.4,11 Q-36.4,13.3 -34,13.3 L31,13.3 Q33.3,13.3 33.3,11 L33.3,6.5" /><line x1="-19" y1="-16.6" x2="16" y2="-16.6" stroke-width="1.9"/></g><rect x="-17.6" y="-14.6" width="1.3" height="1" fill="#666"/><rect x="-13.2" y="-14.6" width="1.3" height="1" fill="#666"/><rect x="-8.7" y="-14.6" width="1.3" height="1" fill="#666"/><rect x="-4.3" y="-14.6" width="1.3" height="1" fill="#666"/><rect x="0.1" y="-14.6" width="1.3" height="1" fill="#666"/><rect x="4.5" y="-14.6" width="1.3" height="1" fill="#666"/><rect x="9.0" y="-14.6" width="1.3" height="1" fill="#666"/><rect x="13.4" y="-14.6" width="1.3" height="1" fill="#666"/><rect x="-16.1" y="-12.4" width="1.3" height="1" fill="#666"/><rect x="-11.2" y="-12.4" width="1.3" height="1" fill="#666"/><rect x="-6.3" y="-12.4" width="1.3" height="1" fill="#666"/><rect x="-1.4" y="-12.4" width="1.3" height="1" fill="#666"/><rect x="3.6" y="-12.4" width="1.3" height="1" fill="#666"/><rect x="8.5" y="-12.4" width="1.3" height="1" fill="#666"/><rect x="13.4" y="-12.4" width="1.3" height="1" fill="#666"/><rect x="-21.6" y="-8.8" width="1.3" height="1" fill="#666"/><rect x="-16.0" y="-8.8" width="1.3" height="1" fill="#666"/><rect x="-10.3" y="-8.8" width="1.3" height="1" fill="#666"/><rect x="-4.7" y="-8.8" width="1.3" height="1" fill="#666"/><rect x="1.0" y="-8.8" width="1.3" height="1" fill="#666"/><rect x="6.6" y="-8.8" width="1.3" height="1" fill="#666"/><rect x="12.3" y="-8.8" width="1.3" height="1" fill="#666"/><rect x="17.9" y="-8.8" width="1.3" height="1" fill="#666"/><rect x="-22.1" y="-4.7" width="1.3" height="1" fill="#666"/><rect x="-15.3" y="-4.7" width="1.3" height="1" fill="#666"/><rect x="-8.4" y="-4.7" width="1.3" height="1" fill="#666"/><rect x="-1.6" y="-4.7" width="1.3" height="1" fill="#666"/><rect x="5.2" y="-4.7" width="1.3" height="1" fill="#666"/><rect x="12.1" y="-4.7" width="1.3" height="1" fill="#666"/><rect x="18.9" y="-4.7" width="1.3" height="1" fill="#666"/><rect x="-29.1" y="1.2" width="1.3" height="1" fill="#666"/><rect x="-21.5" y="1.2" width="1.3" height="1" fill="#666"/><rect x="-14.0" y="1.2" width="1.3" height="1" fill="#666"/><rect x="-6.4" y="1.2" width="1.3" height="1" fill="#666"/><rect x="1.2" y="1.2" width="1.3" height="1" fill="#666"/><rect x="8.8" y="1.2" width="1.3" height="1" fill="#666"/><rect x="16.3" y="1.2" width="1.3" height="1" fill="#666"/><rect x="23.9" y="1.2" width="1.3" height="1" fill="#666"/></g>
<g transform="translate(1280,1088.3)" ><g fill="none" stroke="#222228" stroke-width="1.6"><circle cx="-0.35" cy="-2.3" r="28.4"/><rect x="-1.7" y="-20.2" width="17.3" height="36.1"/><line x1="2.6" y1="-20.2" x2="2.6" y2="15.9" stroke-width="1.4"/><line x1="11.5" y1="-20.2" x2="11.5" y2="15.9" stroke-width="1.4"/><line x1="-16" y1="-7.5" x2="-4.5" y2="-7.5"/><path d="M-8.4,-11 L-4.3,-7.5 L-8.4,-4"/><line x1="-16" y1="3" x2="-3.9" y2="3"/><path d="M-12,-0.5 L-16,3 L-12,6.5"/></g><rect x="6.2" y="-17.5" width="1.6" height="1" fill="#333"/><rect x="6.2" y="-14.3" width="1.6" height="1" fill="#333"/><rect x="6.2" y="-11.0" width="1.6" height="1" fill="#333"/><rect x="6.2" y="-7.8" width="1.6" height="1" fill="#333"/><rect x="6.2" y="-4.5" width="1.6" height="1" fill="#333"/><rect x="6.2" y="-1.0" width="1.6" height="1" fill="#333"/><rect x="6.2" y="2.2" width="1.6" height="1" fill="#333"/><rect x="6.2" y="5.7" width="1.6" height="1" fill="#333"/><rect x="6.2" y="8.9" width="1.6" height="1" fill="#333"/><rect x="6.2" y="12.2" width="1.6" height="1" fill="#333"/></g>
<path d="M1605.7,95.6 L1692.8,95.2 L1736,163.5 L1693.1,232.3 L1606.9,232.9 L1563.5,165Z" fill="#fff" stroke="#12dbe6" stroke-width="1.9"/>
<use href="#photo" x="1593" y="129.5" width="118.2" height="69.4"/>
<use href="#photo" x="938" y="436.5" width="113.5" height="68"/>
<text x="405.7" y="365.9" font-size="26.5" font-weight="bold" fill="#231f20" textLength="317.3" lengthAdjust="spacingAndGlyphs" stroke="#231f20" stroke-width="0.45">Non-Woven Breathable</text>
<text x="460" y="395.8" font-size="26.5" font-weight="bold" fill="#231f20" textLength="207.5" lengthAdjust="spacingAndGlyphs" stroke="#231f20" stroke-width="0.45">Fabric(25g/M3)</text>
<text x="805" y="354.4" font-size="26.5" font-weight="bold" fill="#231f20" textLength="345.8" lengthAdjust="spacingAndGlyphs" stroke="#231f20" stroke-width="0.45">350g M3 Ultra Breathable,</text>
<text x="734.7" y="385.1" font-size="26.5" font-weight="bold" fill="#231f20" textLength="487.2" lengthAdjust="spacingAndGlyphs" stroke="#231f20" stroke-width="0.45">Water Resistant, High Density Fabric</text>
<text x="1297.3" y="379" font-size="26.5" font-weight="bold" fill="#231f20" textLength="299.5" lengthAdjust="spacingAndGlyphs" stroke="#231f20" stroke-width="0.45">Resilient High Rebound</text>
<text x="1353" y="408.8" font-size="26.5" font-weight="bold" fill="#231f20" textLength="187.8" lengthAdjust="spacingAndGlyphs" stroke="#231f20" stroke-width="0.45">Foam (30mm)</text>
<text x="283.2" y="559.9" font-size="26.5" font-weight="bold" fill="#231f20" textLength="344.8" lengthAdjust="spacingAndGlyphs" stroke="#231f20" stroke-width="0.45">Latex Gel-Infused Memory</text>
<text x="314.6" y="589" font-size="26.5" font-weight="bold" fill="#231f20" textLength="281.0" lengthAdjust="spacingAndGlyphs" stroke="#231f20" stroke-width="0.45">Cotton Layer (30mm)</text>
<text x="1508.4" y="583.6" font-size="26.5" font-weight="bold" fill="#231f20" textLength="318.9" lengthAdjust="spacingAndGlyphs" stroke="#231f20" stroke-width="0.45">Thermo-regulating High</text>
<text x="1511.6" y="613.7" font-size="26.5" font-weight="bold" fill="#231f20" textLength="312.4" lengthAdjust="spacingAndGlyphs" stroke="#231f20" stroke-width="0.45">Rebound Foam (40mm)</text>
<text x="126.2" y="696.5" font-size="26.5" font-weight="bold" fill="#231f20" textLength="302.7" lengthAdjust="spacingAndGlyphs" stroke="#231f20" stroke-width="0.45">Eco-Friendly Insulation</text>
<text x="168.3" y="726.6" font-size="26.5" font-weight="bold" fill="#231f20" textLength="216.2" lengthAdjust="spacingAndGlyphs" stroke="#231f20" stroke-width="0.45">Layer (300g/M3)</text>
<text x="1358.8" y="649.6" font-size="26.5" font-weight="bold" fill="#231f20" textLength="135.0" lengthAdjust="spacingAndGlyphs" stroke="#231f20" stroke-width="0.45">Additional</text>
<text x="1333" y="679.4" font-size="26.5" font-weight="bold" fill="#231f20" textLength="185.1" lengthAdjust="spacingAndGlyphs" stroke="#231f20" stroke-width="0.45">Comfort Layer</text>
<text x="359.9" y="809.2" font-size="26.5" font-weight="bold" fill="#231f20" textLength="314.1" lengthAdjust="spacingAndGlyphs" stroke="#231f20" stroke-width="0.45">Transitional Foam Layer</text>
<text x="1628.8" y="802.7" font-size="26.5" font-weight="bold" fill="#231f20" textLength="172.6" lengthAdjust="spacingAndGlyphs" stroke="#231f20" stroke-width="0.45">Edge Support</text>
<text x="1594.2" y="832.5" font-size="26.5" font-weight="bold" fill="#231f20" textLength="241.8" lengthAdjust="spacingAndGlyphs" stroke="#231f20" stroke-width="0.45">Foam Encasement</text>
<text x="1415.2" y="941" font-size="26.5" font-weight="bold" fill="#231f20" textLength="328.8" lengthAdjust="spacingAndGlyphs" stroke="#231f20" stroke-width="0.45">Precision 7-Zone Injected</text>
<text x="1384.7" y="970.7" font-size="26.5" font-weight="bold" fill="#231f20" textLength="390.8" lengthAdjust="spacingAndGlyphs" stroke="#231f20" stroke-width="0.45">200mm Pocket Spring System</text>
<text x="1493.8" y="999.9" font-size="26.5" font-weight="bold" fill="#231f20" textLength="171.6" lengthAdjust="spacingAndGlyphs" stroke="#231f20" stroke-width="0.45">(3000 Count)</text>
<text x="195.6" y="1011.2" font-size="26.5" font-weight="bold" fill="#231f20" textLength="414.0" lengthAdjust="spacingAndGlyphs" stroke="#231f20" stroke-width="0.45">Point-Bonded Stabilising Fabric</text>
<text x="322.5" y="1040.9" font-size="26.5" font-weight="bold" fill="#231f20" textLength="159.0" lengthAdjust="spacingAndGlyphs" stroke="#231f20" stroke-width="0.45">(Grey Cloth)</text>
<text x="783.4" y="1034.6" font-size="26.5" font-weight="bold" fill="#231f20" textLength="142.6" lengthAdjust="spacingAndGlyphs" stroke="#231f20" stroke-width="0.45">Supportive</text>
<text x="823.6" y="1064.3" font-size="26.5" font-weight="bold" fill="#231f20" textLength="62.5" lengthAdjust="spacingAndGlyphs" stroke="#231f20" stroke-width="0.45">Base</text>
<text x="968.4" y="1014.2" font-size="26.5" font-weight="bold" fill="#231f20" textLength="301.9" lengthAdjust="spacingAndGlyphs" stroke="#231f20" stroke-width="0.45">Eco-Friendly Insulation</text>
<text x="1011.7" y="1043.3" font-size="26.5" font-weight="bold" fill="#231f20" textLength="215.2" lengthAdjust="spacingAndGlyphs" stroke="#231f20" stroke-width="0.45">Layer (300g/M3)</text>
<text x="535.4" y="1167.4" font-size="26.5" font-weight="bold" fill="#231f20" textLength="356.2" lengthAdjust="spacingAndGlyphs" stroke="#231f20" stroke-width="0.45">Luxury Anti Slip Base Fabric</text>
<text x="1200" y="1174" font-size="26.5" font-weight="bold" fill="#231f20" textLength="161.4" lengthAdjust="spacingAndGlyphs" stroke="#231f20" stroke-width="0.45">Air Flow Side</text>
<text x="1176.3" y="1202.5" font-size="26.5" font-weight="bold" fill="#231f20" textLength="207.2" lengthAdjust="spacingAndGlyphs" stroke="#231f20" stroke-width="0.45">Support System</text>
<text x="1533.6" y="266.8" font-size="23.3" font-weight="normal" fill="#111" textLength="226.6" lengthAdjust="spacingAndGlyphs" stroke="#111" stroke-width="0.85">Dual-Zone Synergistic</text>
<text x="1562.8" y="300.4" font-size="23.3" font-weight="normal" fill="#111" textLength="173.7" lengthAdjust="spacingAndGlyphs" stroke="#111" stroke-width="0.85">Massage System</text>
<text x="85.4" y="1301.4" font-size="27" font-weight="bold" fill="#111" textLength="557.5" lengthAdjust="spacingAndGlyphs" stroke="#111" stroke-width="0.2">Prime Massage 3000 Gel Pocket Mattress</text>
<text x="85.4" y="1332.8" font-size="25.8" font-weight="normal" fill="#111" textLength="279.1" lengthAdjust="spacingAndGlyphs" stroke="#111" stroke-width="0.15">Technology Breakdown</text>
</svg>
</body></html>
